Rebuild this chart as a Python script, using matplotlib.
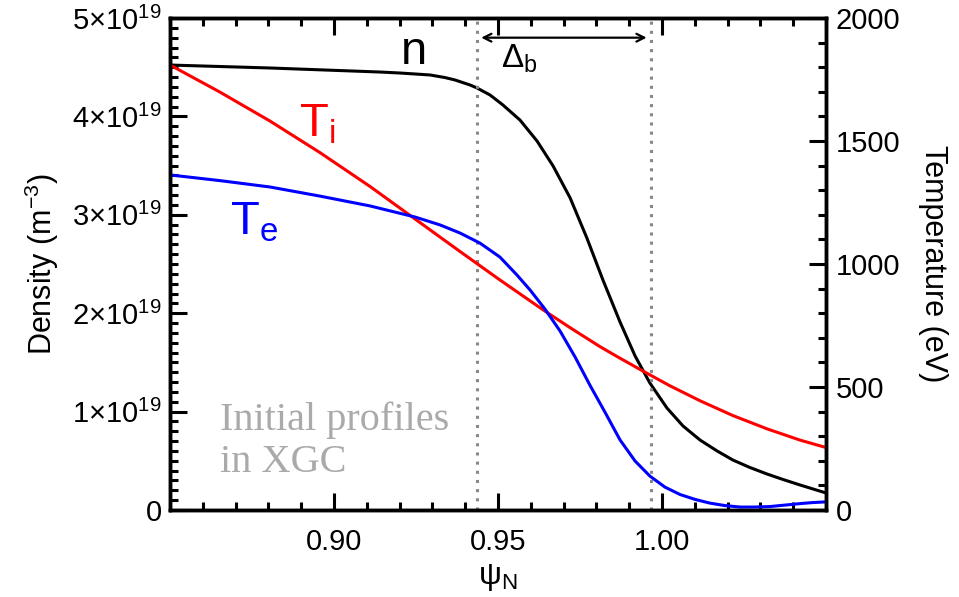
import matplotlib
matplotlib.use("Agg")
import matplotlib.pyplot as plt
from matplotlib.ticker import MultipleLocator, FuncFormatter

plt.rcParams['font.family'] = ['Liberation Sans', 'DejaVu Sans']
plt.rcParams['mathtext.fontset'] = 'custom'
plt.rcParams['mathtext.rm'] = 'Liberation Sans'
plt.rcParams['mathtext.it'] = 'Liberation Sans'

# density profile n (units of 1e19 m^-3)
psi_n = [0.8500, 0.8805, 0.9140, 0.9201, 0.9293, 0.9338, 0.9369, 0.9415,
         0.9436, 0.9476, 0.9515, 0.9567, 0.9619, 0.9668, 0.9720, 0.9771,
         0.9820, 0.9872, 0.9918, 0.9963, 1.0015, 1.0064, 1.0116, 1.0168,
         1.0216, 1.0268, 1.0320, 1.0369, 1.0421, 1.0500]
dens = [4.522, 4.492, 4.451, 4.441, 4.421, 4.395, 4.370, 4.319,
        4.289, 4.217, 4.116, 3.963, 3.750, 3.496, 3.171, 2.764,
        2.337, 1.911, 1.565, 1.291, 1.037, 0.854, 0.711, 0.600,
        0.508, 0.432, 0.366, 0.310, 0.254, 0.173]

# ion temperature (eV)
psi_ti = [0.8500, 0.8652, 0.8805, 0.8957, 0.9110, 0.9247, 0.9384, 0.9506,
          0.9637, 0.9720, 0.9811, 0.9872, 0.9939, 1.0024, 1.0116, 1.0216,
          1.0320, 1.0421, 1.0500]
Ti = [1809, 1699, 1581, 1453, 1315, 1183, 1051, 935,
      814, 741, 664, 617, 567, 505, 444, 384,
      330, 284, 254]

# electron temperature (eV)
psi_te = [0.8500, 0.8652, 0.8805, 0.8957, 0.9110, 0.9247, 0.9323, 0.9384,
          0.9445, 0.9506, 0.9558, 0.9598, 0.9643, 0.9689, 0.9735, 0.9780,
          0.9826, 0.9872, 0.9918, 0.9963, 1.0009, 1.0055, 1.0101, 1.0146,
          1.0192, 1.0238, 1.0284, 1.0329, 1.0375, 1.0421, 1.0457, 1.0500]
Te = [1362, 1339, 1313, 1276, 1236, 1191, 1159, 1126,
      1085, 1028, 955, 894, 817, 728, 622, 508,
      398, 285, 199, 138, 93, 63, 43, 28,
      18, 12, 12, 14, 20, 26, 30, 33]

# pedestal width markers
ped_in, ped_out = 0.9436, 0.9966

fig = plt.figure(figsize=(9.59, 5.97), dpi=100)
ax = fig.add_axes([170/959, 87/597, 656/959, 492/597])
ax2 = ax.twinx()

ax.plot(psi_n, [d*1e19 for d in dens], color='black', lw=2.2)
ax2.plot(psi_ti, Ti, color='#ff0000', lw=2.2)
ax2.plot(psi_te, Te, color='#0000ff', lw=2.2)

for xv in (ped_in, ped_out):
    ax.axvline(xv, color='#888888', lw=2.2, ls=(0, (1, 2.0)))

ax.set_xlim(0.85, 1.05)
ax.set_ylim(0, 5e19)
ax2.set_ylim(0, 2000)

ax.set_xticks([0.90, 0.95, 1.00])
ax.set_xticks([0.85 + 0.01*i for i in range(21)], minor=True)
ax.xaxis.set_major_formatter(FuncFormatter(lambda v, p: '%.2f' % v))
ax.yaxis.set_major_locator(MultipleLocator(1e19))
ax.yaxis.set_minor_locator(MultipleLocator(1e18))

def dens_fmt(v, p):
    k = int(round(v/1e19))
    if k == 0:
        return '0'
    return r'$%d{\times}10^{19}$' % k
ax.yaxis.set_major_formatter(FuncFormatter(dens_fmt))

ax2.yaxis.set_major_locator(MultipleLocator(500))
ax2.yaxis.set_minor_locator(MultipleLocator(100))

ax.tick_params(which='both', direction='in', top=True, right=False, width=2.2,
               labelsize=21, colors='black')
ax.tick_params(which='major', length=12)
ax.tick_params(which='minor', length=6)
ax.tick_params(axis='x', pad=13)
ax.tick_params(axis='y', pad=6)
ax2.tick_params(which='both', direction='in', width=2.2, labelsize=21)
ax2.tick_params(which='major', length=12, pad=7)
ax2.tick_params(which='minor', length=6)

for a in (ax, ax2):
    for s in a.spines.values():
        s.set_linewidth(2.5)

ax.set_ylabel(r'Density (m$^{-3}$)', fontsize=22, labelpad=8)
ax2.set_ylabel('Temperature (eV)', fontsize=22, rotation=-90, labelpad=34)
ax.set_xlabel(r'ψ$_\mathrm{N}$', fontsize=23, labelpad=4)

# pedestal width arrow
ax.annotate('', xy=(ped_in, 4.80e19), xytext=(ped_out, 4.80e19),
            arrowprops=dict(arrowstyle='<->', lw=1.6, color='black',
                            shrinkA=3, shrinkB=3, mutation_scale=14))
ax.text(0.9510, 4.50e19, r'Δ$_\mathrm{b}$', fontsize=24, ha='left', va='baseline')

ax.text(0.9245, 4.53e19, 'n', fontsize=34, ha='center', va='baseline')
ax2.text(0.8893, 1520, r'T$_\mathrm{i}$', fontsize=34, color='#ff0000',
         ha='left', va='baseline')
ax2.text(0.8682, 1120, r'T$_\mathrm{e}$', fontsize=34, color='#0000ff',
         ha='left', va='baseline')

serif = ['Liberation Serif', 'DejaVu Serif']
ax.text(0.8652, 0.813e19, 'Initial profiles', fontsize=29, color='#aaaaaa',
        family=serif, ha='left', va='baseline')
ax.text(0.8652, 0.386e19, 'in XGC', fontsize=29, color='#aaaaaa',
        family=serif, ha='left', va='baseline')

fig.savefig('out.png', dpi=100)
